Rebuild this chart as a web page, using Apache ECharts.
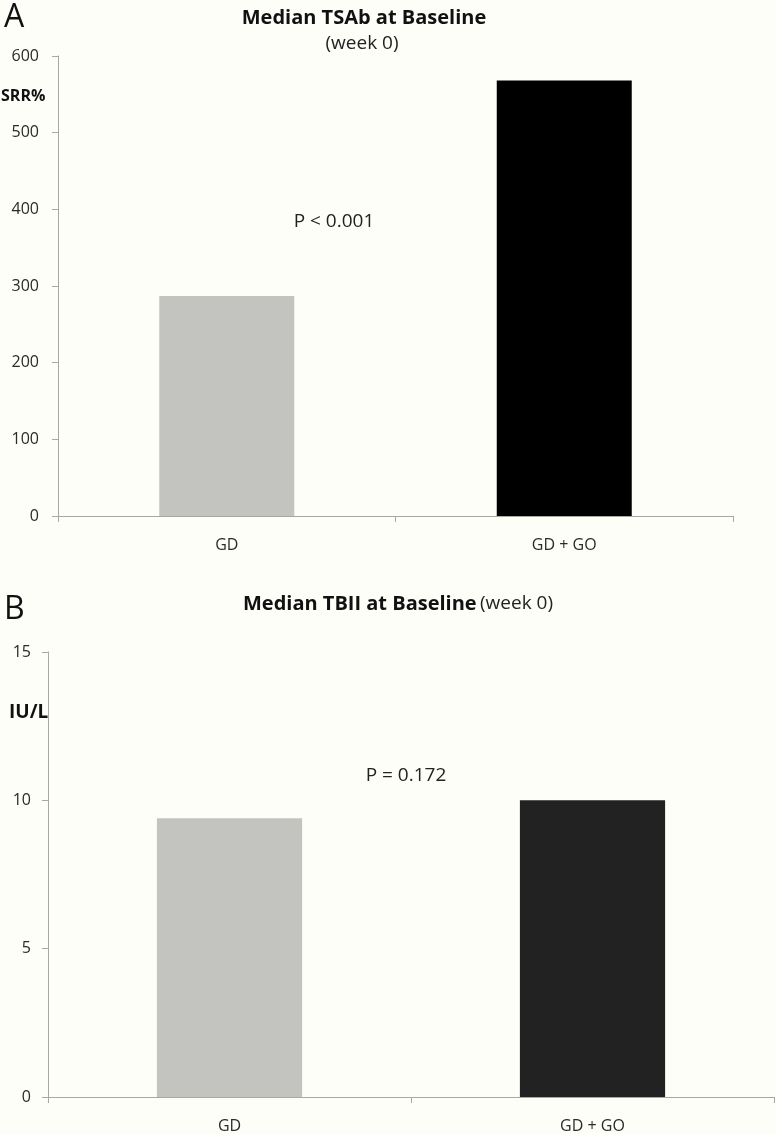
<!DOCTYPE html>
<html>
<head>
<meta charset="utf-8">
<script src="https://cdn.jsdelivr.net/npm/echarts@6/dist/echarts.min.js"></script>
<style>
html,body{margin:0;padding:0;background:#fefef9;}
#chart{width:776px;height:1134px;}
</style>
</head>
<body>
<div id="chart"></div>
<script>
const categories = ['GD', 'GD + GO'];
const tsabValues = [287, 568];
const tbiiValues = [9.4, 10.0];
const barColorsA = ['#c3c4bf', '#000000'];
const barColorsB = ['#c3c4bf', '#222222'];
const FONT = '"Open Sans", "Noto Sans", sans-serif';

const chart = echarts.init(document.getElementById('chart'));

function yAxis(gridIndex, max, interval, margin) {
  return {
    type: 'value', gridIndex, min: 0, max, interval,
    splitLine: { show: false },
    axisLine: { show: true, lineStyle: { color: '#a8a8a4', width: 1 } },
    axisTick: { show: true, length: 6, lineStyle: { color: '#a8a8a4' } },
    axisLabel: { color: '#2a2a2a', fontSize: 16, fontFamily: FONT, margin }
  };
}
function xAxis(gridIndex) {
  return {
    type: 'category', gridIndex, data: categories,
    axisLine: { show: true, lineStyle: { color: '#a8a8a4', width: 1 } },
    axisTick: { show: true, length: 6, lineStyle: { color: '#a8a8a4' } },
    axisLabel: { color: '#2a2a2a', fontSize: 16, fontFamily: FONT, margin: 21 }
  };
}

chart.setOption({
  backgroundColor: '#fefef9',
  animation: false,
  grid: [
    { left: 58, right: 43, top: 56, bottom: 618 },
    { left: 48, right: 2, top: 652, bottom: 35 }
  ],
  xAxis: [xAxis(0), xAxis(1)],
  yAxis: [yAxis(0, 600, 100, 19), yAxis(1, 15, 5, 17)],
  series: [
    {
      type: 'bar', xAxisIndex: 0, yAxisIndex: 0, barCategoryGap: '60%',
      data: tsabValues.map((v, i) => ({ value: v, itemStyle: { color: barColorsA[i] } }))
    },
    {
      type: 'bar', xAxisIndex: 1, yAxisIndex: 1, barCategoryGap: '60%',
      data: tbiiValues.map((v, i) => ({ value: v, itemStyle: { color: barColorsB[i] } }))
    }
  ],
  graphic: [
    { type: 'text', left: 4, top: 2, style: { text: 'A', fontSize: 32, fontFamily: FONT, fill: '#111' } },
    { type: 'text', x: 364, y: 18, style: { text: 'Median TSAb at Baseline', fontSize: 20, fontWeight: 'bold', fontFamily: FONT, fill: '#111', align: 'center', verticalAlign: 'middle' } },
    { type: 'text', x: 362, y: 44, style: { text: '(week 0)', fontSize: 19, fontFamily: FONT, fill: '#222', align: 'center', verticalAlign: 'middle' } },
    { type: 'text', x: 1, y: 96, style: { text: 'SRR%', fontSize: 16, fontWeight: 'bold', fontFamily: FONT, fill: '#111', verticalAlign: 'middle' } },
    { type: 'text', x: 334, y: 222, style: { text: 'P < 0.001', fontSize: 19, fontFamily: FONT, fill: '#222', align: 'center', verticalAlign: 'middle' } },
    { type: 'text', left: 4, top: 594, style: { text: 'B', fontSize: 32, fontFamily: FONT, fill: '#111' } },
    { type: 'text', x: 398, y: 604, style: {
        text: '{b|Median TBII at Baseline} {n|(week 0)}',
        align: 'center', verticalAlign: 'middle',
        rich: {
          b: { fontSize: 20, fontWeight: 'bold', fontFamily: FONT, fill: '#111', color: '#111' },
          n: { fontSize: 19, fontFamily: FONT, fill: '#222', color: '#222' }
        } } },
    { type: 'text', x: 9, y: 713, style: { text: 'IU/L', fontSize: 19, fontWeight: 'bold', fontFamily: FONT, fill: '#111', verticalAlign: 'middle' } },
    { type: 'text', x: 406, y: 776, style: { text: 'P = 0.172', fontSize: 19, fontFamily: FONT, fill: '#222', align: 'center', verticalAlign: 'middle' } }
  ]
});
</script>
</body>
</html>
